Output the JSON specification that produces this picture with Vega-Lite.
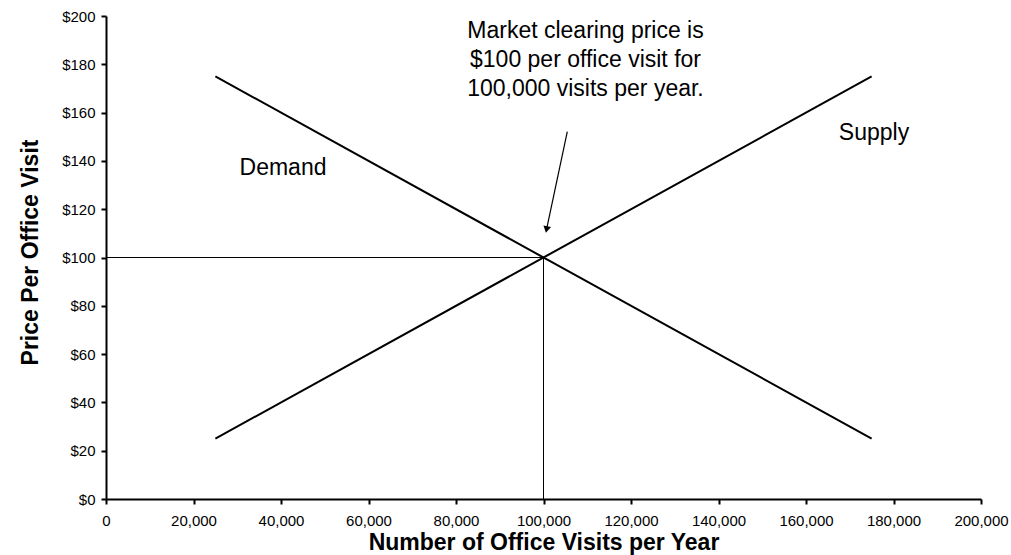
{
  "$schema": "https://vega.github.io/schema/vega-lite/v6.json",
  "autosize": {"type": "none"},
  "width": 875,
  "height": 483,
  "padding": {"left": 106, "top": 16, "right": 30, "bottom": 56},
  "background": "white",
  "config": {
    "view": {"stroke": null},
    "font": "Liberation Sans",
    "axis": {"grid": false, "labelFlush": false, "labelOverlap": false, "domainColor": "black", "domainWidth": 2, "tickColor": "black", "tickWidth": 2, "tickSize": 5, "labelFont": "Liberation Sans", "labelFontSize": 15, "labelColor": "black", "titleFont": "Liberation Sans", "titleFontSize": 23, "titleFontWeight": "bold", "titleColor": "black"}
  },
  "datasets": {
    "curves": [
      {"series": "Demand", "visits": 25000, "price": 175},
      {"series": "Demand", "visits": 175000, "price": 25},
      {"series": "Supply", "visits": 25000, "price": 25},
      {"series": "Supply", "visits": 175000, "price": 175}
    ],
    "refs": [
      {"x1": 0, "y1": 100, "x2": 100000, "y2": 100},
      {"x1": 100000, "y1": 0, "x2": 100000, "y2": 100}
    ],
    "arrow": [
      {"x1": 105440, "y1": 152.1, "x2": 100700, "y2": 111.6}
    ],
    "labels": [
      {"x": 40460, "y": 134.2, "text": "Demand"},
      {"x": 175540, "y": 148.7, "text": "Supply"}
    ],
    "note": [
      {"x": 109600, "y": 190.7, "text": "Market clearing price is\n$100 per office visit for\n100,000 visits per year."}
    ]
  },
  "layer": [
    {
      "data": {"name": "curves"},
      "mark": {"type": "line", "color": "black", "strokeWidth": 2},
      "encoding": {
        "x": {"field": "visits", "type": "quantitative", "scale": {"domain": [0, 200000], "nice": false},
          "axis": {"title": "Number of Office Visits per Year", "values": [0, 20000, 40000, 60000, 80000, 100000, 120000, 140000, 160000, 180000, 200000], "format": ",d", "labelPadding": 9, "titleBaseline": "alphabetic", "titleY": 50}},
        "y": {"field": "price", "type": "quantitative", "scale": {"domain": [0, 200], "nice": false},
          "axis": {"title": "Price Per Office Visit", "values": [0, 20, 40, 60, 80, 100, 120, 140, 160, 180, 200], "format": "$,d", "labelPadding": 6, "titleAngle": -90, "titleBaseline": "alphabetic", "titleAlign": "center", "titleX": -69, "titleY": 236}},
        "detail": {"field": "series"}
      }
    },
    {
      "data": {"name": "refs"},
      "mark": {"type": "rule", "color": "black", "strokeWidth": 1},
      "encoding": {
        "x": {"field": "x1", "type": "quantitative"},
        "y": {"field": "y1", "type": "quantitative"},
        "x2": {"field": "x2"},
        "y2": {"field": "y2"}
      }
    },
    {
      "data": {"name": "arrow"},
      "mark": {"type": "rule", "color": "black", "strokeWidth": 1.2},
      "encoding": {
        "x": {"field": "x1", "type": "quantitative"},
        "y": {"field": "y1", "type": "quantitative"},
        "x2": {"field": "x2"},
        "y2": {"field": "y2"}
      }
    },
    {
      "data": {"name": "arrow"},
      "mark": {"type": "point", "shape": "triangle-down", "filled": true, "color": "black", "size": 60, "angle": 12, "opacity": 1},
      "encoding": {
        "x": {"field": "x2", "type": "quantitative"},
        "y": {"field": "y2", "type": "quantitative"}
      }
    },
    {
      "data": {"name": "labels"},
      "mark": {"type": "text", "fontSize": 23, "color": "black", "align": "center", "baseline": "alphabetic", "font": "Liberation Sans"},
      "encoding": {
        "x": {"field": "x", "type": "quantitative"},
        "y": {"field": "y", "type": "quantitative"},
        "text": {"field": "text"}
      }
    },
    {
      "data": {"name": "note"},
      "mark": {"type": "text", "fontSize": 23, "color": "black", "align": "center", "baseline": "alphabetic", "lineBreak": "\n", "lineHeight": 29, "font": "Liberation Sans"},
      "encoding": {
        "x": {"field": "x", "type": "quantitative"},
        "y": {"field": "y", "type": "quantitative"},
        "text": {"field": "text"}
      }
    }
  ]
}
